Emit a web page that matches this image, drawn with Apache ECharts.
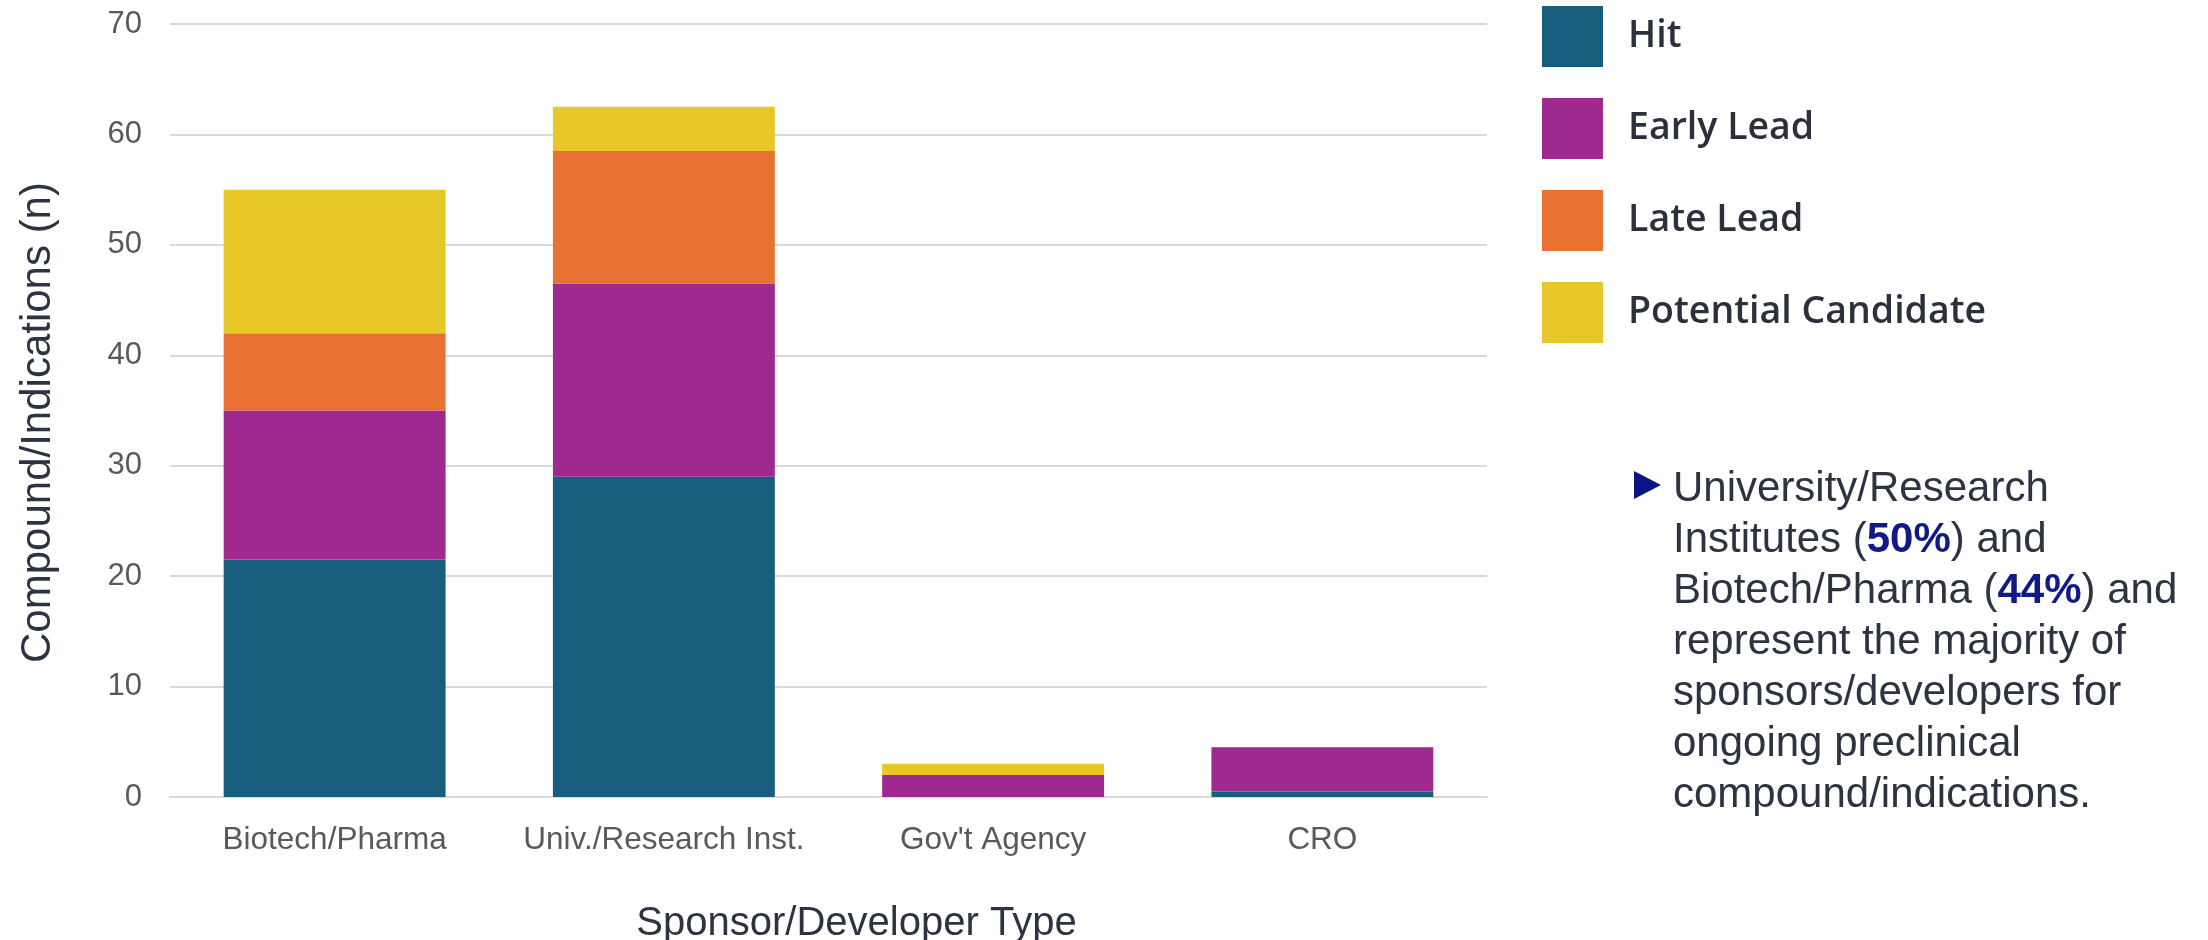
<!DOCTYPE html>
<html>
<head>
<meta charset="utf-8">
<script src="https://cdn.jsdelivr.net/npm/echarts@6/dist/echarts.min.js"></script>
<style>
html,body{margin:0;padding:0;background:#fff;}
#chart{width:2208px;height:940px;}
</style>
</head>
<body>
<div id="chart"></div>
<script>
// ---- data ----
const categories = ['Biotech/Pharma', 'Univ./Research Inst.', "Gov't Agency", 'CRO'];
const seriesNames = ['Hit', 'Early Lead', 'Late Lead', 'Potential Candidate'];
const hitValues = [21.5, 29, 0, 0.5];
const earlyLeadValues = [13.5, 17.5, 2, 4];
const lateLeadValues = [7, 12, 0, 0];
const potentialValues = [13, 4, 1, 0];
const yTicks = [0, 10, 20, 30, 40, 50, 60, 70];
const xAxisTitle = 'Sponsor/Developer Type';
const yAxisTitle = 'Compound/Indications (n)';
const noteLines = [
  'University/Research',
  'Institutes ({b|50%}) and',
  'Biotech/Pharma ({b|44%}) and',
  'represent the majority of',
  'sponsors/developers for',
  'ongoing preclinical',
  'compound/indications.'
];

// ---- style ----
const colors = ['#175e7e', '#9e2a8f', '#e97133', '#e7c828'];
const axisFont = 'Liberation Sans, Arial, sans-serif';
const seriesValues = [hitValues, earlyLeadValues, lateLeadValues, potentialValues];

const chart = echarts.init(document.getElementById('chart'), null, {renderer: 'canvas'});

const option = {
  animation: false,
  backgroundColor: '#ffffff',
  color: colors,
  grid: {left: 170, right: 721, top: 24, bottom: 143, containLabel: false, outerBoundsMode: 'none'},
  legend: {
    orient: 'vertical',
    left: 1542,
    top: 6,
    padding: 0,
    itemWidth: 61,
    itemHeight: 61,
    itemGap: 31,
    icon: 'rect',
    data: seriesNames,
    textStyle: {
      fontFamily: 'Open Sans',
      fontWeight: 600,
      fontSize: 37.5,
      color: '#2b303b',
      padding: [0, 0, 0, 20]
    }
  },
  xAxis: {
    type: 'category',
    data: categories,
    axisTick: {show: false},
    axisLine: {lineStyle: {color: '#d9d9d9', width: 2}},
    axisLabel: {interval: 0, fontFamily: axisFont, fontSize: 31.5, color: '#595959', margin: 27},
    name: xAxisTitle,
    nameLocation: 'middle',
    nameGap: 107,
    nameTextStyle: {fontFamily: axisFont, fontSize: 40, color: '#2d3340', padding: [0, 0, 0, 56]}
  },
  yAxis: {
    type: 'value',
    min: yTicks[0],
    max: yTicks[yTicks.length - 1],
    interval: yTicks[1] - yTicks[0],
    axisLine: {show: false},
    axisTick: {show: false},
    splitLine: {lineStyle: {color: '#d9d9d9', width: 2}},
    axisLabel: {fontFamily: axisFont, fontSize: 31, color: '#595959', margin: 28},
    name: yAxisTitle,
    nameLocation: 'middle',
    nameGap: 111,
    nameTextStyle: {fontFamily: axisFont, fontSize: 42, color: '#2d3340', padding: [0, 24, 0, 0]}
  },
  series: seriesNames.map((name, i) => ({
    name: name,
    type: 'bar',
    stack: 'total',
    barCategoryGap: '32.6%',
    data: seriesValues[i],
    itemStyle: {color: colors[i]}
  })),
  graphic: [
    {
      type: 'polygon',
      shape: {points: [[1634, 471], [1634, 499], [1661, 485]]},
      style: {fill: '#0b1480'}
    },
    {
      type: 'text',
      left: 1673,
      top: 464,
      style: {
        text: noteLines.join('\n'),
        fill: '#2d3340',
        fontSize: 42,
        fontFamily: axisFont,
        lineHeight: 51,
        rich: {
          b: {fill: '#0f1a86', fontWeight: 'bold', fontSize: 42, fontFamily: axisFont, lineHeight: 51}
        }
      }
    }
  ]
};
chart.setOption(option);
</script>
</body>
</html>
